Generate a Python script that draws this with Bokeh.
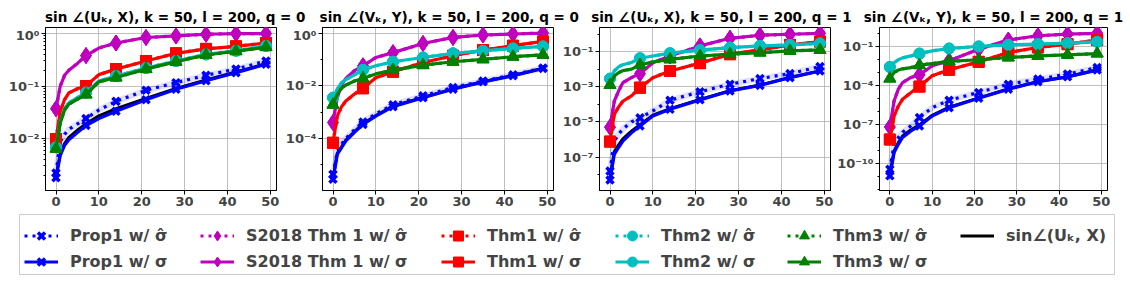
from bokeh.plotting import figure
from bokeh.models import Range1d, FixedTicker, CustomJSTickFormatter, Legend, LegendItem, Label
from bokeh.layouts import column, row
from bokeh.embed import file_html
from bokeh.resources import INLINE

# ---------------- data ----------------
X = [0, 1, 2, 3, 5, 7, 10, 14, 21, 28, 35, 42, 49]
MARK_X = [0, 7, 14, 21, 28, 35, 42, 49]

# panel 1: sin∠(U_k, X), q = 0
p1_prop1_hat = [0.0022, 0.0087, 0.012, 0.015, 0.019, 0.024, 0.035, 0.051, 0.083, 0.116, 0.16, 0.21, 0.30]
p1_prop1 = [0.0018, 0.0048, 0.0074, 0.0095, 0.013, 0.0177, 0.024, 0.033, 0.055, 0.087, 0.126, 0.18, 0.26]
p1_true = [0.0019, 0.0052, 0.008, 0.0105, 0.0145, 0.019, 0.027, 0.037, 0.058, 0.09, 0.13, 0.185, 0.265]
p1_s2018_hat = [0.037, 0.10, 0.16, 0.20, 0.27, 0.38, 0.53, 0.66, 0.84, 0.90, 0.97, 1.0, 1.0]
p1_s2018 = [0.037, 0.10, 0.16, 0.20, 0.27, 0.38, 0.53, 0.66, 0.84, 0.90, 0.97, 1.0, 1.0]
p1_thm1_hat = [0.0098, 0.033, 0.055, 0.074, 0.089, 0.10, 0.165, 0.21, 0.30, 0.42, 0.51, 0.57, 0.66]
p1_thm1 = [0.0098, 0.033, 0.055, 0.074, 0.089, 0.10, 0.165, 0.21, 0.30, 0.42, 0.51, 0.57, 0.66]
p1_thm2_hat = [0.0068, 0.021, 0.037, 0.048, 0.060, 0.075, 0.125, 0.155, 0.22, 0.30, 0.40, 0.47, 0.58]
p1_thm2 = [0.0068, 0.021, 0.037, 0.048, 0.060, 0.075, 0.125, 0.155, 0.22, 0.30, 0.40, 0.47, 0.58]
p1_thm3_hat = [0.0064, 0.020, 0.035, 0.045, 0.056, 0.069, 0.12, 0.145, 0.21, 0.29, 0.39, 0.46, 0.55]
p1_thm3 = [0.0064, 0.020, 0.035, 0.045, 0.056, 0.069, 0.12, 0.145, 0.21, 0.29, 0.39, 0.46, 0.55]

# panel 2: sin∠(V_k, Y), q = 0
p2_prop1_hat = [4.3e-6, 3.2e-5, 6e-5, 1.0e-4, 2.1e-4, 4.2e-4, 8.5e-4, 0.0019, 0.0041, 0.0085, 0.015, 0.026, 0.047]
p2_prop1 = [2.8e-6, 2.5e-5, 4.4e-5, 8e-5, 1.7e-4, 3.4e-4, 7e-4, 0.0016, 0.0035, 0.0074, 0.014, 0.024, 0.045]
p2_true = [3e-6, 2.7e-5, 4.8e-5, 8.6e-5, 1.8e-4, 3.6e-4, 7.4e-4, 0.0017, 0.0036, 0.0076, 0.0142, 0.0245, 0.046]
p2_s2018_hat = [4e-4, 0.0035, 0.011, 0.019, 0.037, 0.057, 0.118, 0.18, 0.40, 0.68, 0.84, 0.92, 1.0]
p2_s2018 = [4e-4, 0.0035, 0.011, 0.019, 0.037, 0.057, 0.118, 0.18, 0.40, 0.68, 0.84, 0.92, 1.0]
p2_thm1_hat = [6.8e-5, 7e-4, 0.0016, 0.0026, 0.0048, 0.008, 0.020, 0.034, 0.076, 0.137, 0.225, 0.33, 0.48]
p2_thm1 = [6.8e-5, 7e-4, 0.0016, 0.0026, 0.0048, 0.008, 0.020, 0.034, 0.076, 0.137, 0.225, 0.33, 0.48]
p2_thm2_hat = [0.0035, 0.0074, 0.013, 0.017, 0.026, 0.040, 0.057, 0.081, 0.118, 0.17, 0.21, 0.26, 0.31]
p2_thm2 = [0.0035, 0.0074, 0.013, 0.017, 0.026, 0.040, 0.057, 0.081, 0.118, 0.17, 0.21, 0.26, 0.31]
p2_thm3_hat = [0.0019, 0.0048, 0.008, 0.0105, 0.015, 0.019, 0.028, 0.039, 0.060, 0.081, 0.10, 0.126, 0.149]
p2_thm3 = [0.0019, 0.0048, 0.008, 0.0105, 0.015, 0.019, 0.028, 0.039, 0.060, 0.081, 0.10, 0.126, 0.149]

# panel 3: sin∠(U_k, X), q = 1
p3_prop1_hat = [1.6e-8, 8e-7, 2e-6, 4e-6, 1e-5, 1.7e-5, 4.2e-5, 1.7e-4, 5.2e-4, 0.0014, 0.0029, 0.0056, 0.014]
p3_prop1 = [5e-9, 1.4e-7, 3.5e-7, 8e-7, 2.4e-6, 5.9e-6, 2.2e-5, 5.2e-5, 1.8e-4, 5.8e-4, 0.0012, 0.0033, 0.0079]
p3_true = [7e-9, 2e-7, 5e-7, 1.1e-6, 3e-6, 7e-6, 2.4e-5, 5.6e-5, 1.9e-4, 6e-4, 0.00125, 0.0034, 0.008]
p3_s2018_hat = [5e-6, 1.5e-4, 5.7e-4, 0.0017, 0.0033, 0.0056, 0.023, 0.056, 0.21, 0.57, 0.85, 0.97, 1.1]
p3_s2018 = [5e-6, 1.5e-4, 5.7e-4, 0.0017, 0.0033, 0.0056, 0.023, 0.056, 0.21, 0.57, 0.85, 0.97, 1.1]
p3_thm1_hat = [7.6e-7, 2.7e-5, 7e-5, 1.5e-4, 3e-4, 8.9e-4, 0.0033, 0.0079, 0.022, 0.071, 0.124, 0.24, 0.37]
p3_thm1 = [7.6e-7, 2.7e-5, 7e-5, 1.5e-4, 3e-4, 8.9e-4, 0.0033, 0.0079, 0.022, 0.071, 0.124, 0.24, 0.37]
p3_thm2_hat = [0.0029, 0.0079, 0.0135, 0.018, 0.024, 0.042, 0.056, 0.081, 0.12, 0.17, 0.21, 0.24, 0.29]
p3_thm2 = [0.0029, 0.0079, 0.0135, 0.018, 0.024, 0.042, 0.056, 0.081, 0.12, 0.17, 0.21, 0.24, 0.29]
p3_thm3_hat = [0.00126, 0.0041, 0.0063, 0.0083, 0.010, 0.0174, 0.026, 0.036, 0.056, 0.071, 0.087, 0.11, 0.124]
p3_thm3 = [0.00126, 0.0041, 0.0063, 0.0083, 0.010, 0.0174, 0.026, 0.036, 0.056, 0.071, 0.087, 0.11, 0.124]

# panel 4: sin∠(V_k, Y), q = 1
p4_prop1_hat = [3.5e-11, 3e-9, 1e-8, 2.5e-8, 8e-8, 3.5e-7, 2e-6, 7.6e-6, 3e-5, 1.3e-4, 3.2e-4, 7.8e-4, 0.0025]
p4_prop1 = [1.1e-11, 6.8e-10, 3e-9, 1e-8, 3.2e-8, 7.8e-8, 4.6e-7, 2e-6, 1.07e-5, 5.4e-5, 2e-4, 4.8e-4, 0.0016]
p4_true = [1.5e-11, 9e-10, 4e-9, 1.3e-8, 4e-8, 9.5e-8, 5.2e-7, 2.2e-6, 1.15e-5, 5.6e-5, 2.05e-4, 4.9e-4, 0.00165]
p4_s2018_hat = [6.5e-8, 6.6e-6, 5.4e-5, 1.7e-4, 4.3e-4, 6.9e-4, 0.0034, 0.0083, 0.066, 0.33, 0.71, 0.95, 1.1]
p4_s2018 = [6.5e-8, 6.6e-6, 5.4e-5, 1.7e-4, 4.3e-4, 6.9e-4, 0.0034, 0.0083, 0.066, 0.33, 0.71, 0.95, 1.1]
p4_thm1_hat = [7e-9, 4.6e-7, 2.7e-6, 9e-6, 3e-5, 8.5e-5, 5.8e-4, 0.0017, 0.0069, 0.036, 0.089, 0.16, 0.33]
p4_thm1 = [7e-9, 4.6e-7, 2.7e-6, 9e-6, 3e-5, 8.5e-5, 5.8e-4, 0.0017, 0.0069, 0.036, 0.089, 0.16, 0.33]
p4_thm2_hat = [0.0028, 0.0061, 0.010, 0.014, 0.020, 0.030, 0.049, 0.074, 0.107, 0.142, 0.16, 0.19, 0.24]
p4_thm2 = [0.0028, 0.0061, 0.010, 0.014, 0.020, 0.030, 0.049, 0.074, 0.107, 0.142, 0.16, 0.19, 0.24]
p4_thm3_hat = [3.5e-4, 0.00105, 0.0016, 0.0020, 0.0025, 0.0038, 0.0051, 0.0074, 0.010, 0.015, 0.020, 0.024, 0.030]
p4_thm3 = [3.5e-4, 0.00105, 0.0016, 0.0020, 0.0025, 0.0038, 0.0051, 0.0074, 0.010, 0.015, 0.020, 0.024, 0.030]

titles = [
    "sin ∠(Uₖ, X), k = 50, l = 200, q = 0",
    "sin ∠(Vₖ, Y), k = 50, l = 200, q = 0",
    "sin ∠(Uₖ, X), k = 50, l = 200, q = 1",
    "sin ∠(Vₖ, Y), k = 50, l = 200, q = 1",
]
x_ticks = [0, 10, 20, 30, 40, 50]

legend_labels = {
    "prop1_hat": "Prop1 w/ σ̂", "prop1": "Prop1 w/ σ",
    "s2018_hat": "S2018 Thm 1 w/ σ̂", "s2018": "S2018 Thm 1 w/ σ",
    "thm1_hat": "Thm1 w/ σ̂", "thm1": "Thm1 w/ σ",
    "thm2_hat": "Thm2 w/ σ̂", "thm2": "Thm2 w/ σ",
    "thm3_hat": "Thm3 w/ σ̂", "thm3": "Thm3 w/ σ",
    "true": "sin∠(Uₖ, X)",
}

panels = [
    dict(prop1_hat=p1_prop1_hat, prop1=p1_prop1, true=p1_true, s2018_hat=p1_s2018_hat, s2018=p1_s2018,
         thm1_hat=p1_thm1_hat, thm1=p1_thm1, thm2_hat=p1_thm2_hat, thm2=p1_thm2, thm3_hat=p1_thm3_hat, thm3=p1_thm3),
    dict(prop1_hat=p2_prop1_hat, prop1=p2_prop1, true=p2_true, s2018_hat=p2_s2018_hat, s2018=p2_s2018,
         thm1_hat=p2_thm1_hat, thm1=p2_thm1, thm2_hat=p2_thm2_hat, thm2=p2_thm2, thm3_hat=p2_thm3_hat, thm3=p2_thm3),
    dict(prop1_hat=p3_prop1_hat, prop1=p3_prop1, true=p3_true, s2018_hat=p3_s2018_hat, s2018=p3_s2018,
         thm1_hat=p3_thm1_hat, thm1=p3_thm1, thm2_hat=p3_thm2_hat, thm2=p3_thm2, thm3_hat=p3_thm3_hat, thm3=p3_thm3),
    dict(prop1_hat=p4_prop1_hat, prop1=p4_prop1, true=p4_true, s2018_hat=p4_s2018_hat, s2018=p4_s2018,
         thm1_hat=p4_thm1_hat, thm1=p4_thm1, thm2_hat=p4_thm2_hat, thm2=p4_thm2, thm3_hat=p4_thm3_hat, thm3=p4_thm3),
]

# ---------------- styles ----------------
BLUE, MAG, RED, CYAN, GREEN = "#0000ff", "#bf00bf", "#ff0000", "#00bfbf", "#008000"
styles = {
    "prop1_hat": (BLUE, "x", 10), "prop1": (BLUE, "x", 10),
    "s2018_hat": (MAG, "diamond", 16), "s2018": (MAG, "diamond", 16),
    "thm1_hat": (RED, "square", 11), "thm1": (RED, "square", 11),
    "thm2_hat": (CYAN, "circle", 11), "thm2": (CYAN, "circle", 11),
    "thm3_hat": (GREEN, "triangle", 12), "thm3": (GREEN, "triangle", 12),
}
order = ["prop1_hat", "prop1", "s2018_hat", "s2018", "thm1_hat", "thm1",
         "thm2_hat", "thm2", "thm3_hat", "thm3"]

y_ranges = [(10 ** -2.99, 10 ** 0.115), (10 ** -5.98, 10 ** 0.21), (10 ** -8.9, 10 ** 0.37), (10 ** -12.09, 10 ** 0.49)]
major_y = [
    [1e-3, 1e-2, 1e-1, 1.0],
    [1e-6, 1e-4, 1e-2, 1.0],
    [1e-9, 1e-7, 1e-5, 1e-3, 1e-1],
    [1e-13, 1e-10, 1e-7, 1e-4, 1e-1],
]
minor_y = [
    [m * 10.0 ** e for e in (-3, -2, -1) for m in range(2, 10)],
    [1e-5, 1e-3, 1e-1],
    [1e-8, 1e-6, 1e-4, 1e-2, 1.0],
    [1e-12, 1e-11, 1e-9, 1e-8, 1e-6, 1e-5, 1e-3, 1e-2, 1.0],
]

FONT = "DejaVu Sans"
sup_fmt = CustomJSTickFormatter(code="""
const e = Math.round(Math.log10(tick));
const m = {"-":"\u207b","0":"\u2070","1":"\u00b9","2":"\u00b2","3":"\u00b3","4":"\u2074",
           "5":"\u2075","6":"\u2076","7":"\u2077","8":"\u2078","9":"\u2079"};
let s = "";
for (const c of String(e)) { s += m[c]; }
return "10" + s;
""")

# ---------------- title strip ----------------
TOTAL_W = 1130
head = figure(width=TOTAL_W, height=27, x_range=Range1d(0, TOTAL_W), y_range=Range1d(0, 27),
              min_border=0, toolbar_location=None, output_backend="svg",
              x_axis_location=None, y_axis_location=None)
head.grid.visible = False
head.outline_line_color = None
title_centers = [158.5, 437.5, 714.5, 991.5]
for cx, t in zip(title_centers, titles):
    head.add_layout(Label(x=cx, y=11, text=t, text_align="center", text_baseline="middle",
                          text_font=FONT, text_font_style="bold", text_font_size="13.5px",
                          text_color="black"))

# ---------------- panels ----------------
borders_left = [45, 42, 42, 42]
borders_right = [4, 4, 4, 8]
FRAME_W = 231
figs = []
for i in range(4):
    d = panels[i]
    p = figure(width=borders_left[i] + FRAME_W + borders_right[i], height=181,
               y_axis_type="log", x_range=Range1d(-2.45, 51.45),
               y_range=Range1d(*y_ranges[i]), toolbar_location=None,
               output_backend="svg", min_border_left=borders_left[i],
               min_border_right=borders_right[i], min_border_top=0, min_border_bottom=18)
    p.outline_line_color = "black"
    p.outline_line_width = 1
    p.xaxis.ticker = FixedTicker(ticks=x_ticks)
    p.yaxis.ticker = FixedTicker(ticks=major_y[i], minor_ticks=minor_y[i])
    p.yaxis.formatter = sup_fmt
    for ax in (p.xaxis, p.yaxis):
        ax.major_label_text_font = FONT
        ax.major_label_text_font_style = "bold"
        ax.major_label_text_font_size = "13px"
        ax.major_tick_out = 4
        ax.major_tick_in = 0
        ax.minor_tick_out = 2
        ax.minor_tick_in = 0
        ax.major_label_standoff = 2
        ax.axis_line_color = "black"
    p.xaxis.minor_tick_line_color = None
    p.grid.grid_line_color = "#b0b0b0"
    p.grid.grid_line_width = 0.8
    p.background_fill_color = "white"

    p.line(X, d["true"], line_color="black", line_width=3)
    for key in order:
        color, marker, size = styles[key]
        vals = d[key]
        dash = "3 5" if key.endswith("_hat") else "solid"
        if key == "prop1_hat":
            p.line(X, vals, line_color=BLUE, line_width=6, line_alpha=0.12)
        p.line(X, vals, line_color=color, line_width=3.2, line_dash=dash)
        mx = [x for x in X if x in MARK_X]
        my = [v for x, v in zip(X, vals) if x in MARK_X]
        if marker == "x":
            p.scatter(mx, my, marker="x", size=size, line_color=color, line_width=3.5)
        else:
            p.scatter(mx, my, marker=marker, size=size, fill_color=color, line_color=color)
    figs.append(p)

# ---------------- legend ----------------
lf = figure(width=1115, height=68, x_range=Range1d(0, 1), y_range=Range1d(0, 1),
            min_border_left=19, min_border_right=1, min_border_top=6, min_border_bottom=2,
            toolbar_location=None, output_backend="svg",
            x_axis_location=None, y_axis_location=None)
lf.grid.visible = False
lf.outline_line_color = "#cccccc"
lf.outline_line_width = 1

def legend_renderers(key):
    if key == "true":
        return [lf.line([-5, -4], [-5, -5], line_color="black", line_width=3)]
    color, marker, size = styles[key]
    dash = "3 5" if key.endswith("_hat") else "solid"
    r1 = lf.line([-5, -4], [-5, -5], line_color=color, line_width=3, line_dash=dash)
    if marker == "x":
        r2 = lf.scatter([-5], [-5], marker="x", size=size, line_color=color, line_width=3.5)
    else:
        r2 = lf.scatter([-5], [-5], marker=marker, size=size, fill_color=color, line_color=color)
    return [r1, r2]

columns = [["prop1_hat", "prop1"], ["s2018_hat", "s2018"], ["thm1_hat", "thm1"],
           ["thm2_hat", "thm2"], ["thm3_hat", "thm3"], ["true"]]
col_x = [5, 181, 422, 596, 768, 941]
for cx, keys in zip(col_x, columns):
    items = [LegendItem(label=legend_labels[k], renderers=legend_renderers(k)) for k in keys]
    nrow = len(keys)
    lg = Legend(items=items, location=(cx, 0 + (26 if nrow == 1 else 0)), orientation="vertical",
                padding=0, spacing=1, margin=0, glyph_width=34, glyph_height=25,
                label_height=25, label_standoff=12, label_text_font=FONT,
                label_text_font_style="bold", label_text_font_size="16px",
                border_line_color=None, background_fill_alpha=0)
    lf.add_layout(lg, "center")

layout = column(head, row(*figs), lf)
open("out.html", "w").write(file_html(layout, INLINE))
